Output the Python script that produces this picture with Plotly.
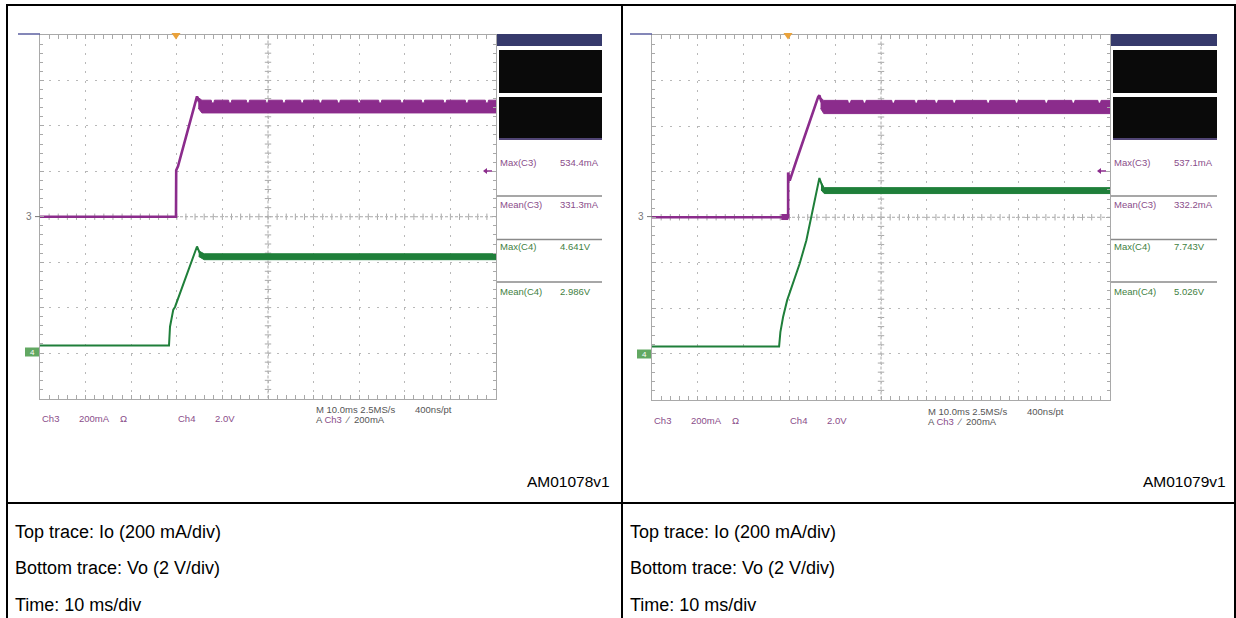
import plotly.graph_objects as go

W, H = 1236, 618

# ---------------- DATA ----------------
# time in ms (10 ms/div, trigger at 0), Io in mA (200 mA/div), Vo in V (2 V/div)

# Left capture (AM01078v1)
t_io_left = [-30, -0.18, -0.13, 0.26, 4.43, 4.9]
io_left = [0, 0, 205, 222, 530, 505]
t_io_band_left = [4.7, 5.5, 70]
io_band_hi_left = [525, 513, 513]
io_band_lo_left = [478, 457, 457]
io_notch_t_left = [7.9, 11.7, 15.6, 19.8, 23.5, 27.5, 31.5, 35.5, 40.0, 44.6, 49.4, 54.0, 58.8, 63.6, 68.0]

t_vo_left = [-30, -1.71, -1.49, -0.77, -0.39, 4.43, 5.0]
vo_left = [0.33, 0.33, 1.16, 1.91, 2.03, 4.69, 4.42]
t_vo_band_left = [4.8, 6.0, 70]
vo_band_hi_left = [4.50, 4.37, 4.37]
vo_band_lo_left = [4.25, 4.11, 4.11]

# Right capture (AM01079v1)
t_io_right = [-30, -0.28, -0.28, 0.07, 1.53, 2.99, 4.43, 6.27, 6.55, 7.0]
io_right = [0, 0, 196, 161, 249, 337, 425, 527, 535, 505]
t_io_pre_right = [-1.75, -0.3]
io_pre_hi_right = [12, 12]
io_pre_lo_right = [-10, -10]
t_io_band_right = [6.8, 7.5, 70]
io_band_hi_right = [525, 513, 513]
io_band_lo_right = [478, 455, 455]
io_notch_t_right = [13.1, 16.4, 22.7, 27.7, 32.1, 36.0, 43.4, 49.6, 56.1, 62.0, 67.7]

t_vo_right = [-30, -2.25, -1.97, -1.38, -0.50, 0.81, 2.25, 3.71, 6.27, 6.55, 7.2]
vo_right = [0.33, 0.33, 0.96, 1.62, 2.35, 3.16, 3.97, 4.99, 7.58, 7.72, 7.35]
t_vo_band_right = [6.9, 7.6, 70]
vo_band_hi_right = [7.55, 7.30, 7.30]
vo_band_lo_right = [7.20, 7.04, 7.04]

meas_names = ["Max(C3)", "Mean(C3)", "Max(C4)", "Mean(C4)"]
meas_left = ["534.4mA", "331.3mA", "4.641V", "2.986V"]
meas_right = ["537.1mA", "332.2mA", "7.743V", "5.026V"]
fig_ids = ["AM01078v1", "AM01079v1"]
captions = ["Top trace: Io (200 mA/div)", "Bottom trace: Vo (2 V/div)", "Time: 10 ms/div"]

# ---------------- STYLE ----------------
PURPLE = "#8b2c8c"
GREEN = "#1f7f3a"
PURPLE_TXT = "#8a4d8a"
GREEN_TXT = "#3f7f3f"
GRAY_TXT = "#555555"
GRID = "#b8b8b8"
FRAME = "#a9a9a9"
FONT = "Liberation Sans"


def px(x):
    return x / W


def py(y):
    return 1 - y / H


def band_polygon(t, hi, lo, notches=(), depth=0.0, half=0.35):
    pts = list(zip(t, hi))
    lvl = hi[-1]
    for tn in notches:
        pts += [(tn - half, lvl), (tn - half + 0.12, lvl - depth),
                (tn + half - 0.12, lvl - depth), (tn + half, lvl)]
    pts.sort()
    ux = [p[0] for p in pts]
    uy = [p[1] for p in pts]
    return ux + t[::-1], uy + lo[::-1]


fig = go.Figure()


def add_band(t, hi, lo, color, xa, ya, notches=(), depth=0.0):
    bx, by = band_polygon(t, hi, lo, notches, depth)
    fig.add_trace(go.Scatter(x=bx, y=by, mode="lines", fill="toself", fillcolor=color,
                             line=dict(color=color, width=1), xaxis=xa, yaxis=ya,
                             hoverinfo="skip", showlegend=False))


def add_line(t, v, color, xa, ya, width=2.2):
    fig.add_trace(go.Scatter(x=t, y=v, mode="lines", line=dict(color=color, width=width),
                             xaxis=xa, yaxis=ya, hoverinfo="skip", showlegend=False))


# Left scope: x / y (mA) / y3 (V)
add_line(t_vo_left, vo_left, GREEN, "x", "y3", 2.0)
add_band(t_vo_band_left, vo_band_hi_left, vo_band_lo_left, GREEN, "x", "y3")
add_line(t_io_left, io_left, PURPLE, "x", "y", 2.6)
add_band(t_io_band_left, io_band_hi_left, io_band_lo_left, PURPLE, "x", "y",
         io_notch_t_left, 12)

# Right scope: x2 / y2 (mA) / y4 (V)
add_line(t_vo_right, vo_right, GREEN, "x2", "y4", 2.0)
add_band(t_vo_band_right, vo_band_hi_right, vo_band_lo_right, GREEN, "x2", "y4")
add_line(t_io_right, io_right, PURPLE, "x2", "y2", 2.6)
add_band(t_io_pre_right, io_pre_hi_right, io_pre_lo_right, PURPLE, "x2", "y2")
add_band(t_io_band_right, io_band_hi_right, io_band_lo_right, PURPLE, "x2", "y2",
         io_notch_t_right, 12)

xstyle = dict(range=[-30, 70], tick0=-30, dtick=10, showgrid=True, gridcolor=GRID,
              griddash="2px,7.1px", gridwidth=1, showline=True, linecolor=FRAME, linewidth=1,
              mirror="allticks", ticks="inside", ticklen=4, tickcolor=FRAME,
              showticklabels=False, zeroline=False, fixedrange=True,
              minor=dict(ticks="inside", ticklen=3, tick0=-30, dtick=2, tickcolor=FRAME,
                         showgrid=False))
ystyle = dict(range=[-800, 800], tick0=-800, dtick=200, showgrid=True, gridcolor=GRID,
              griddash="2px,7.1px", gridwidth=1, showline=True, linecolor=FRAME, linewidth=1,
              mirror="allticks", ticks="inside", ticklen=4, tickcolor=FRAME,
              showticklabels=False, zeroline=False, fixedrange=True,
              minor=dict(ticks="inside", ticklen=3, tick0=-800, dtick=40, tickcolor=FRAME,
                         showgrid=False))

shapes = []
annotations = []

# centre cross of each graticule (drawn in axis units)
for xr, yr in (("x", "y"), ("x2", "y2")):
    shapes.append(dict(type="line", xref=xr, yref=yr, x0=-30, x1=70, y0=0, y1=0,
                       line=dict(color=FRAME, width=1, dash="3px,2px"), layer="below"))
    shapes.append(dict(type="line", xref=xr, yref=yr, x0=20, x1=20, y0=-800, y1=800,
                       line=dict(color=FRAME, width=1, dash="3px,2px"), layer="below"))
    for k in range(1, 50):
        t = -30 + 2 * k
        shapes.append(dict(type="line", xref=xr, yref=yr, x0=t, x1=t, y0=-14, y1=14,
                           line=dict(color=FRAME, width=1), layer="below"))
    for k in range(1, 40):
        v = -800 + 40 * k
        shapes.append(dict(type="line", xref=xr, yref=yr, x0=19.3, x1=20.7, y0=v, y1=v,
                           line=dict(color=FRAME, width=1), layer="below"))


def prect(x0, y0, x1, y1, color, line=None):
    shapes.append(dict(type="rect", xref="paper", yref="paper", x0=px(x0), x1=px(x1),
                       y0=py(y1), y1=py(y0), fillcolor=color,
                       line=dict(width=0) if line is None else line, layer="above"))


def pline(x0, y0, x1, y1, color, width=1):
    shapes.append(dict(type="line", xref="paper", yref="paper", x0=px(x0), x1=px(x1),
                       y0=py(y0), y1=py(y1), line=dict(color=color, width=width),
                       layer="above"))


def ppath(points, color):
    d = "M " + " L ".join(f"{px(a)},{py(b)}" for a, b in points) + " Z"
    shapes.append(dict(type="path", xref="paper", yref="paper", path=d,
                       fillcolor=color, line=dict(width=0), layer="above"))


def ptext(x, y, text, color, size=9.5, xanchor="left", family=FONT):
    annotations.append(dict(xref="paper", yref="paper", x=px(x), y=py(y), text=text,
                            showarrow=False, xanchor=xanchor, yanchor="middle",
                            font=dict(family=family, size=size, color=color)))


scopes = [
    dict(gx0=40, gx1=496, gy1=398.5, trig=176, ch4y=352, meas=meas_left,
         lab_dy=0, fid=fig_ids[0], fid_x=612, panel0=497, panel1=602, col0=7),
    dict(gx0=652, gx1=1110, gy1=399.5, trig=788, ch4y=354, meas=meas_right,
         lab_dy=2, fid=fig_ids[1], fid_x=1228, panel0=1111, panel1=1217, col0=622),
]

for s in scopes:
    g0, g1, p0, p1 = s["gx0"], s["gx1"], s["panel0"], s["panel1"]
    # little window line at top-left
    pline(g0 - 22, 34, g0, 34, "#5b5fa0", 1.5)
    # trigger position marker
    tx = s["trig"]
    ppath([(tx - 4.5, 33), (tx + 4.5, 33), (tx, 39.5)], "#eaa23a")
    # trigger level marker (small left arrow)
    ax = g1 - 10
    pline(ax, 171, ax + 6, 171, PURPLE, 1.5)
    ppath([(ax - 3, 171), (ax + 1, 168), (ax + 1, 174)], PURPLE)
    # channel ground markers
    ptext(g0 - 6, 216.6, "3", "#777777", 10, "right")
    pline(g0 - 5, 216.6, g0, 216.6, "#777777", 1)
    cy = s["ch4y"]
    prect(g0 - 15, cy - 4.5, g0 - 1, cy + 4.5, "#62a862")
    ptext(g0 - 8, cy, "4", "#ffffff", 8, "center")
    # measurement panel
    prect(p0, 34, p1, 46, "#363a6c")
    prect(p0 + 2, 50, p1, 93, "#0a0a0a")
    prect(p0 + 2, 97, p1, 140, "#0a0a0a")
    pline(p0 + 2, 139, p1, 139, "#6a5a9a", 1.5)
    for yy in (196, 239.5, 282):
        pline(p0, yy, p1, yy, "#8a8a8a", 1.5)
    ys = [162, 204, 247, 291]
    for i, (nm, val) in enumerate(zip(meas_names, s["meas"])):
        col = PURPLE_TXT if i < 2 else GREEN_TXT
        ptext(p0 + 1, ys[i], nm, col)
        ptext(p0 + 61, ys[i], val, col)
    # bottom scope labels
    dy = s["lab_dy"]
    ptext(g0, 418 + dy, "Ch3", PURPLE_TXT)
    ptext(g0 + 37, 418 + dy, "200mA", PURPLE_TXT)
    ptext(g0 + 78, 418 + dy, "Ω", PURPLE_TXT)
    ptext(g0 + 136, 418 + dy, "Ch4", PURPLE_TXT)
    ptext(g0 + 173, 418 + dy, "2.0V", PURPLE_TXT)
    ptext(g0 + 274, 409 + dy, "M 10.0ms 2.5MS/s", GRAY_TXT)
    ptext(g0 + 373, 409 + dy, "400ns/pt", GRAY_TXT)
    ptext(g0 + 274, 419 + dy,
          f"A <span style='color:{PURPLE_TXT}'>Ch3</span>  ∕  200mA", GRAY_TXT)
    # figure id
    ptext(s["fid_x"], 482, s["fid"], "#000000", 15.5, "right")
    # captions
    for yy, cap in zip((532, 568, 605), captions):
        ptext(s["col0"] + 6, yy, cap, "#000000", 18)

# table borders
pline(6, 5, 1236, 5, "#000000", 2)
pline(7, 4, 7, 618, "#000000", 2)
pline(622, 4, 622, 618, "#000000", 2)
pline(1235, 4, 1235, 618, "#000000", 2)
pline(6, 503, 1236, 503, "#000000", 2)

fig.update_layout(
    width=W, height=H, margin=dict(l=0, r=0, t=0, b=0),
    paper_bgcolor="white", plot_bgcolor="white", showlegend=False,
    xaxis=dict(domain=[px(40), px(496)], anchor="y", **xstyle),
    yaxis=dict(domain=[py(398.5), py(35)], anchor="x", **ystyle),
    yaxis3=dict(overlaying="y", anchor="x", range=[-2, 14], visible=False, fixedrange=True),
    xaxis2=dict(domain=[px(652), px(1110)], anchor="y2", **xstyle),
    yaxis2=dict(domain=[py(399.5), py(35)], anchor="x2", **ystyle),
    yaxis4=dict(overlaying="y2", anchor="x2", range=[-2, 14], visible=False, fixedrange=True),
    shapes=shapes, annotations=annotations,
)

fig.write_html("out.html", config={"displayModeBar": False})
